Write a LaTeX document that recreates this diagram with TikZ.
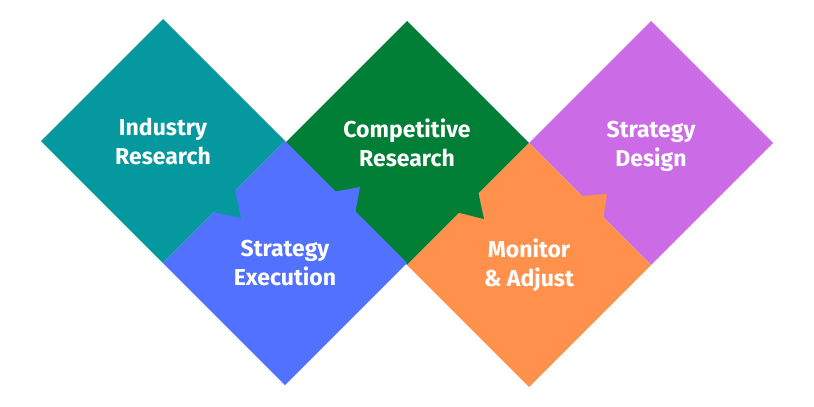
\documentclass[tikz,border=0pt]{standalone}
\usepackage{fontspec}
\setmainfont{Fira Sans}
\usetikzlibrary{calc}
\begin{document}
\definecolor{cteal}{HTML}{05989E}
\definecolor{cblue}{HTML}{5271FF}
\definecolor{cgreen}{HTML}{017F37}
\definecolor{corange}{HTML}{FF914D}
\definecolor{cpurple}{HTML}{CB6CE6}
\begin{tikzpicture}[x=1pt,y=-1pt,
  lbl/.style={text=white,font=\fontsize{23}{29}\selectfont\bfseries,align=center,inner sep=0pt}]
\useasboundingbox (0,0) rectangle (814,407);
\fill[white] (0,0) rectangle (814,407);
\def\dia#1#2#3#4{\fill[#1] (#2,#3-122) -- (#2+122,#3) -- (#2,#3+122) -- (#2-122,#3) -- cycle;
  \coordinate (#4) at (#2,#3);}
\dia{cteal}{163}{141}{ind}
\dia{cgreen}{407}{143}{comp}
\dia{cpurple}{651}{143}{des}
\dia{cblue}{285}{263}{exe}
\dia{corange}{529}{265}{mon}
% tabs
\fill[cteal] (235,190) -- (241,218) -- (213,212) -- cycle;
\fill[cblue] (333,192) -- (360,187) -- (355,214) -- cycle;
\fill[cgreen] (478,191) -- (484,219) -- (456,212) -- cycle;
\fill[corange] (581,196) -- (607,194) -- (603,220) -- cycle;
\node[lbl] (tind) at (ind) {Industry\\Research};
\node[lbl] (tcomp) at (comp) {Competitive\\Research};
\node[lbl] (tdes) at ($(des)+(0,3)$) {Strategy\\Design};
\node[lbl] (texe) at (exe) {Strategy\\Execution};
\node[lbl] (tmon) at (mon) {Monitor\\\& Adjust};
\end{tikzpicture}
\end{document}
